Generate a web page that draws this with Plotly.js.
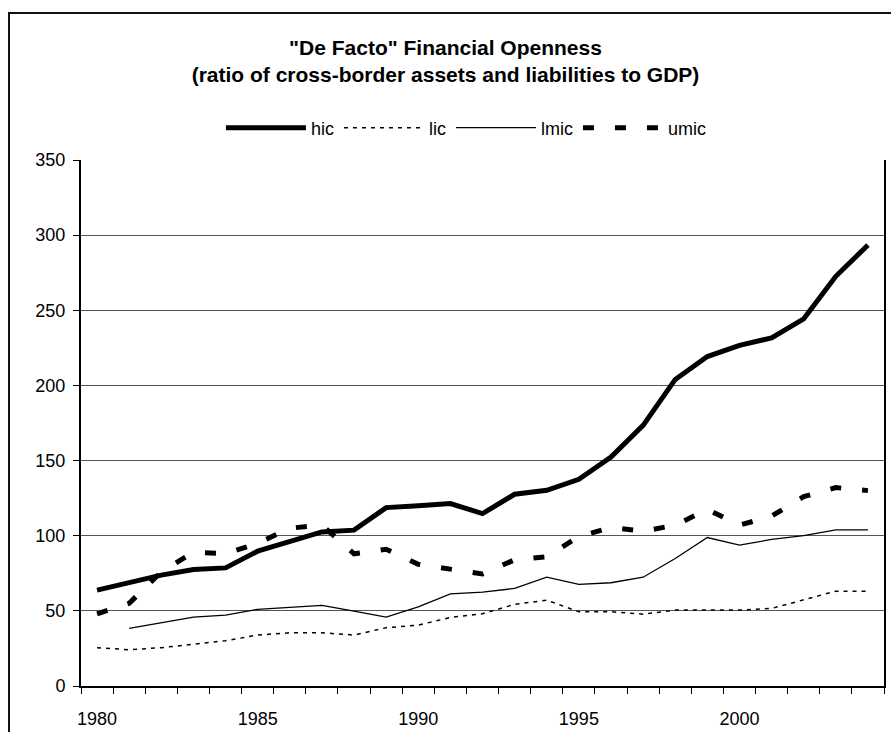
<!DOCTYPE html>
<html>
<head>
<meta charset="utf-8">
<script src="https://cdn.plot.ly/plotly-3.0.1.min.js"></script>
<style>html,body{margin:0;padding:0;background:#fff;}#chart{width:891px;height:732px;}</style>
</head>
<body>
<div id="chart"></div>
<script>
const years = [1980,1981,1982,1983,1984,1985,1986,1987,1988,1989,1990,1991,1992,1993,1994,1995,1996,1997,1998,1999,2000,2001,2002,2003,2004];
const hic  = [63.8,68.9,73.8,77.5,78.6,89.7,95.9,102.5,103.7,118.7,120.0,121.4,114.7,127.6,130.2,137.5,152.4,173.4,204.0,219.2,226.7,231.6,244.3,272.6,293.4];
const lic  = [25.5,24.1,25.5,27.9,30.1,33.9,35.4,35.4,33.9,38.8,40.5,45.6,48.1,54.3,57.1,49.4,49.4,47.8,50.5,50.5,50.5,51.6,57.1,63.1,63.1];
const lmic = [null,38.3,42.0,45.8,47.2,51.0,52.3,53.6,49.8,45.8,52.7,61.3,62.5,64.9,72.4,67.6,68.7,72.4,84.8,98.8,93.7,97.5,100.1,103.9,103.9];
const umic = [48,55,76,89,88,95,105,107,88,91,81,78,74.5,84,86,99.5,105.5,103,107,117.5,107,113,126,132,130];
const xTickLabels = ['1980','1985','1990','1995','2000'];
const xTickVals = [1980,1985,1990,1995,2000];

const FONT = 'Liberation Sans, Arial, sans-serif';

const traces = [
  {x: years, y: hic,  name: 'hic',  mode: 'lines', line: {color: '#000', width: 5}},
  {x: years, y: lic,  name: 'lic',  mode: 'lines', line: {color: '#000', width: 1.5, dash: '4px,5px'}},
  {x: years, y: lmic, name: 'lmic', mode: 'lines', line: {color: '#000', width: 1.3}},
  {x: years, y: umic, name: 'umic', mode: 'lines', line: {color: '#000', width: 5, dash: '11px,21px'}}
];

const layout = {
  width: 891, height: 732,
  margin: {l: 81, r: 7, t: 160, b: 46},
  paper_bgcolor: '#fff', plot_bgcolor: '#fff',
  font: {family: FONT, size: 18, color: '#000'},
  title: {
    text: '<b>"De Facto" Financial Openness<br>(ratio of cross-border assets and liabilities to GDP)</b>',
    font: {family: FONT, size: 21, color: '#000'},
    x: 0.5, xref: 'container', xanchor: 'center',
    y: 1 - 55/732, yref: 'container', yanchor: 'middle'
  },
  showlegend: true,
  legend: {
    orientation: 'h', x: 0.48, xanchor: 'center', xref: 'paper',
    y: (686-128)/526, yanchor: 'middle',
    itemwidth: 80,
    font: {family: FONT, size: 18, color: '#000'},
    bgcolor: 'rgba(0,0,0,0)', traceorder: 'normal'
  },
  xaxis: {
    range: [1979.5, 2004.5],
    tickmode: 'array', tickvals: xTickVals, ticktext: xTickLabels,
    ticks: 'outside', ticklen: 15, tickcolor: 'rgba(0,0,0,0)',
    minor: {tick0: 1979.5, dtick: 1, ticks: 'outside', ticklen: 6, tickcolor: '#000', tickwidth: 1, showgrid: false},
    showgrid: false, zeroline: false,
    showline: true, linecolor: '#000', linewidth: 2,
    tickfont: {family: FONT, size: 18, color: '#000'},
    fixedrange: true
  },
  yaxis: {
    range: [0, 350], dtick: 50, tick0: 0,
    ticks: 'outside', ticklen: 6, tickcolor: '#000', tickwidth: 1,
    ticklabelstandoff: 4,
    showgrid: true, gridcolor: '#555', gridwidth: 1,
    zeroline: false,
    showline: true, linecolor: '#000', linewidth: 2, mirror: true,
    tickfont: {family: FONT, size: 18, color: '#000'},
    fixedrange: true
  },
  shapes: [
    {type: 'rect', xref: 'paper', yref: 'paper',
     x0: (9-81)/803, x1: (900-81)/803, y0: (686-760)/526, y1: (686-13)/526,
     line: {color: '#111', width: 2}, fillcolor: 'rgba(0,0,0,0)', layer: 'below'}
  ]
};

Plotly.newPlot('chart', traces, layout, {displayModeBar: false, staticPlot: true});
</script>
</body>
</html>
